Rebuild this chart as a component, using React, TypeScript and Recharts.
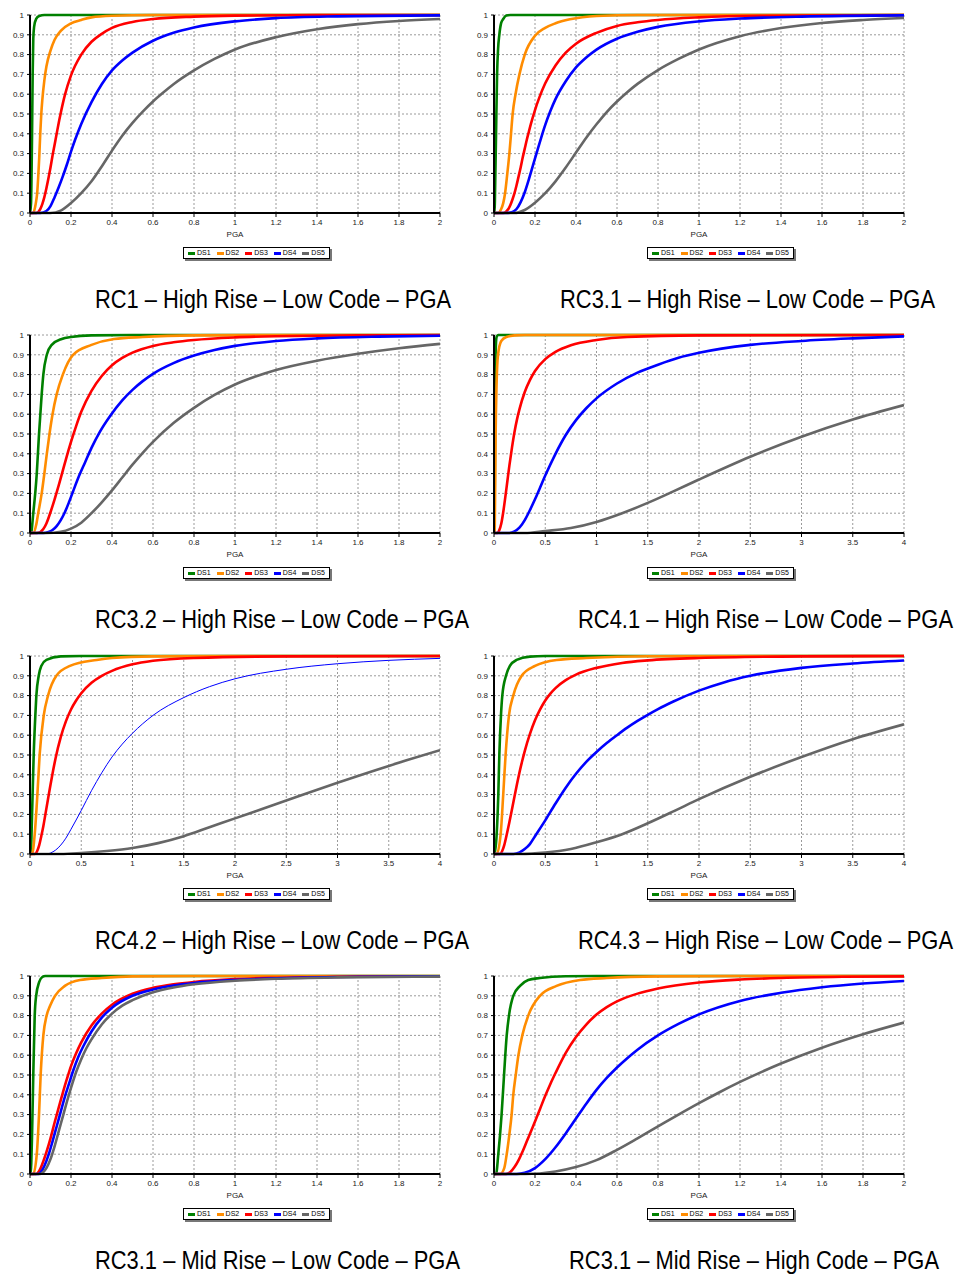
import React from 'react';
import { LineChart, Line, XAxis, YAxis, CartesianGrid, Legend } from 'recharts';

const SERIES_NAMES = ['DS1', 'DS2', 'DS3', 'DS4', 'DS5'];
const SERIES_COLORS = ['#008000', '#ff8c00', '#ff0000', '#0000ff', '#666666'];
const Y_TICKS = [0, 0.1, 0.2, 0.3, 0.4, 0.5, 0.6, 0.7, 0.8, 0.9, 1];
const X_TICKS_2 = [0, 0.2, 0.4, 0.6, 0.8, 1, 1.2, 1.4, 1.6, 1.8, 2];
const X_TICKS_4 = [0, 0.5, 1, 1.5, 2, 2.5, 3, 3.5, 4];
const X_LABEL = 'PGA';

// Panel 1: RC1 – High Rise – Low Code – PGA
const RC1_HR_LC_DS1 = [[0,0],[0.005,0.05],[0.01,0.4],[0.013,0.7],[0.016,0.88],[0.02,0.94],[0.03,0.98],[0.045,0.995],[0.07,1],[2,1]];
const RC1_HR_LC_DS2 = [[0,0],[0.016,0],[0.025,0.03],[0.03,0.06],[0.035,0.1],[0.04,0.18],[0.045,0.28],[0.05,0.4],[0.055,0.5],[0.06,0.57],[0.07,0.67],[0.08,0.74],[0.1,0.82],[0.12,0.875],[0.15,0.92],[0.2,0.958],[0.25,0.975],[0.3,0.988],[0.4,0.996],[0.6,1],[2,1]];
const RC1_HR_LC_DS3 = [[0,0],[0.03,0],[0.05,0.02],[0.06,0.045],[0.07,0.08],[0.08,0.125],[0.09,0.175],[0.1,0.23],[0.11,0.29],[0.12,0.345],[0.13,0.4],[0.14,0.455],[0.15,0.505],[0.17,0.595],[0.2,0.695],[0.25,0.8],[0.3,0.865],[0.35,0.905],[0.4,0.935],[0.5,0.965],[0.6,0.98],[0.8,0.992],[1,0.997],[1.4,1],[2,1]];
const RC1_HR_LC_DS4 = [[0,0],[0.05,0],[0.08,0.01],[0.1,0.035],[0.12,0.08],[0.14,0.13],[0.16,0.185],[0.18,0.245],[0.2,0.31],[0.22,0.37],[0.25,0.45],[0.3,0.56],[0.35,0.65],[0.4,0.72],[0.45,0.77],[0.5,0.81],[0.6,0.87],[0.7,0.91],[0.8,0.937],[1,0.968],[1.2,0.984],[1.5,0.993],[2,0.998]];
const RC1_HR_LC_DS5 = [[0,0],[0.1,0],[0.15,0.012],[0.2,0.05],[0.25,0.1],[0.3,0.16],[0.35,0.235],[0.4,0.315],[0.45,0.39],[0.5,0.455],[0.55,0.512],[0.6,0.563],[0.65,0.608],[0.7,0.65],[0.8,0.72],[0.9,0.778],[1,0.826],[1.2,0.888],[1.4,0.928],[1.6,0.954],[1.8,0.97],[2,0.98]];

// Panel 2: RC3.1 – High Rise – Low Code – PGA
const RC31_HR_LC_DS1 = [[0,0],[0.003,0],[0.005,0.1],[0.01,0.4],[0.015,0.7],[0.02,0.83],[0.026,0.9],[0.035,0.96],[0.045,0.98],[0.06,0.997],[0.08,1],[2,1]];
const RC31_HR_LC_DS2 = [[0,0],[0.02,0],[0.035,0.02],[0.045,0.05],[0.054,0.1],[0.065,0.2],[0.075,0.3],[0.083,0.4],[0.091,0.5],[0.105,0.6],[0.124,0.7],[0.15,0.8],[0.2,0.895],[0.25,0.935],[0.3,0.958],[0.37,0.978],[0.5,0.995],[0.7,1],[2,1]];
const RC31_HR_LC_DS3 = [[0,0],[0.045,0],[0.06,0.008],[0.07,0.02],[0.08,0.04],[0.09,0.068],[0.1,0.1],[0.11,0.14],[0.12,0.185],[0.13,0.23],[0.14,0.28],[0.15,0.325],[0.16,0.37],[0.17,0.41],[0.18,0.45],[0.2,0.52],[0.22,0.58],[0.25,0.655],[0.3,0.745],[0.35,0.81],[0.4,0.855],[0.5,0.91],[0.6,0.945],[0.7,0.963],[0.8,0.975],[1,0.988],[1.3,0.996],[2,1]];
const RC31_HR_LC_DS4 = [[0,0],[0.06,0],[0.09,0.005],[0.11,0.02],[0.13,0.055],[0.15,0.105],[0.17,0.17],[0.19,0.24],[0.21,0.31],[0.23,0.38],[0.25,0.445],[0.275,0.515],[0.3,0.575],[0.35,0.665],[0.4,0.735],[0.45,0.785],[0.5,0.825],[0.6,0.88],[0.7,0.915],[0.8,0.94],[1,0.968],[1.2,0.982],[1.5,0.992],[2,0.998]];
const RC31_HR_LC_DS5 = [[0,0],[0.1,0],[0.15,0.015],[0.2,0.052],[0.25,0.1],[0.3,0.16],[0.35,0.23],[0.4,0.305],[0.45,0.38],[0.5,0.448],[0.55,0.51],[0.6,0.563],[0.65,0.61],[0.7,0.652],[0.8,0.722],[0.9,0.778],[1,0.826],[1.2,0.893],[1.4,0.934],[1.6,0.96],[1.8,0.975],[2,0.985]];

// Panel 3: RC3.2 – High Rise – Low Code – PGA
const RC32_HR_LC_DS1 = [[0,0],[0.005,0],[0.016,0.1],[0.033,0.3],[0.044,0.5],[0.057,0.7],[0.065,0.8],[0.082,0.9],[0.106,0.95],[0.155,0.98],[0.2,0.99],[0.3,0.998],[0.5,1],[2,1]];
const RC32_HR_LC_DS2 = [[0,0],[0.016,0],[0.03,0.04],[0.04,0.1],[0.057,0.2],[0.07,0.3],[0.082,0.4],[0.095,0.5],[0.11,0.6],[0.13,0.7],[0.16,0.8],[0.21,0.9],[0.3,0.95],[0.41,0.98],[0.55,0.99],[0.8,0.998],[1.2,1],[2,1]];
const RC32_HR_LC_DS3 = [[0,0],[0.033,0],[0.05,0.005],[0.065,0.02],[0.08,0.048],[0.1,0.105],[0.12,0.17],[0.14,0.24],[0.16,0.315],[0.18,0.39],[0.2,0.46],[0.225,0.54],[0.25,0.612],[0.3,0.718],[0.35,0.793],[0.4,0.847],[0.45,0.884],[0.5,0.911],[0.6,0.945],[0.7,0.963],[0.8,0.975],[1,0.988],[1.2,0.994],[1.6,0.998],[2,1]];
const RC32_HR_LC_DS4 = [[0,0],[0.065,0],[0.09,0.005],[0.11,0.015],[0.13,0.035],[0.15,0.065],[0.17,0.105],[0.19,0.155],[0.21,0.21],[0.24,0.29],[0.27,0.36],[0.3,0.43],[0.34,0.51],[0.39,0.59],[0.45,0.67],[0.5,0.723],[0.55,0.767],[0.6,0.804],[0.7,0.858],[0.8,0.896],[0.9,0.924],[1,0.945],[1.2,0.97],[1.4,0.983],[1.7,0.992],[2,0.996]];
const RC32_HR_LC_DS5 = [[0,0],[0.08,0],[0.15,0.006],[0.2,0.022],[0.25,0.052],[0.3,0.1],[0.35,0.155],[0.4,0.215],[0.45,0.28],[0.5,0.345],[0.55,0.405],[0.6,0.46],[0.7,0.555],[0.8,0.632],[0.9,0.697],[1,0.75],[1.1,0.79],[1.2,0.823],[1.4,0.87],[1.6,0.905],[1.8,0.933],[2,0.955]];

// Panel 4: RC4.1 – High Rise – Low Code – PGA
const RC41_HR_LC_DS1 = [[0,0],[0.005,0.05],[0.01,0.5],[0.015,0.9],[0.025,0.99],[0.04,1],[4,1]];
const RC41_HR_LC_DS2 = [[0,0],[0.006,0],[0.01,0.15],[0.016,0.5],[0.025,0.75],[0.039,0.9],[0.071,0.97],[0.12,0.99],[0.2,0.998],[0.3,1],[4,1]];
const RC41_HR_LC_DS3 = [[0,0],[0.03,0],[0.05,0.012],[0.07,0.045],[0.09,0.105],[0.11,0.18],[0.13,0.26],[0.15,0.34],[0.175,0.43],[0.2,0.51],[0.225,0.575],[0.25,0.628],[0.3,0.712],[0.35,0.772],[0.4,0.818],[0.5,0.878],[0.6,0.915],[0.75,0.948],[1,0.975],[1.3,0.99],[2,0.998],[4,1]];
const RC41_HR_LC_DS4 = [[0,0],[0.15,0],[0.2,0.008],[0.25,0.028],[0.3,0.065],[0.35,0.115],[0.4,0.17],[0.45,0.23],[0.5,0.29],[0.6,0.4],[0.7,0.495],[0.8,0.57],[0.9,0.63],[1,0.68],[1.2,0.755],[1.4,0.81],[1.6,0.85],[1.8,0.885],[2,0.91],[2.5,0.95],[3,0.97],[3.5,0.983],[4,0.993]];
const RC41_HR_LC_DS5 = [[0,0],[0.3,0],[0.5,0.01],[0.75,0.025],[1,0.056],[1.25,0.1],[1.5,0.152],[1.75,0.21],[2,0.27],[2.5,0.385],[3,0.486],[3.5,0.573],[4,0.646]];

// Panel 5: RC4.2 – High Rise – Low Code – PGA
const RC42_HR_LC_DS1 = [[0,0],[0.007,0],[0.02,0.2],[0.036,0.5],[0.052,0.7],[0.062,0.8],[0.085,0.9],[0.11,0.95],[0.16,0.98],[0.3,0.998],[0.5,1],[4,1]];
const RC42_HR_LC_DS2 = [[0,0],[0.02,0],[0.046,0.1],[0.072,0.3],[0.094,0.5],[0.134,0.7],[0.176,0.8],[0.257,0.9],[0.39,0.95],[0.65,0.98],[0.8,0.99],[1.2,0.998],[2,1],[4,1]];
const RC42_HR_LC_DS3 = [[0,0],[0.046,0],[0.07,0.015],[0.09,0.045],[0.11,0.09],[0.13,0.14],[0.15,0.2],[0.175,0.275],[0.2,0.35],[0.225,0.42],[0.25,0.485],[0.3,0.59],[0.35,0.67],[0.4,0.73],[0.45,0.775],[0.5,0.812],[0.6,0.865],[0.7,0.9],[0.8,0.925],[1,0.958],[1.2,0.976],[1.6,0.99],[2.5,0.998],[4,1]];
const RC42_HR_LC_DS4 = [[0,0],[0.16,0],[0.2,0.005],[0.25,0.02],[0.3,0.045],[0.35,0.08],[0.4,0.125],[0.5,0.22],[0.6,0.32],[0.7,0.41],[0.8,0.49],[0.9,0.555],[1,0.61],[1.2,0.7],[1.5,0.79],[1.75,0.845],[2,0.885],[2.5,0.933],[3,0.961],[3.5,0.978],[4,0.988]];
const RC42_HR_LC_DS5 = [[0,0],[0.3,0],[0.5,0.005],[0.75,0.015],[1,0.03],[1.25,0.055],[1.5,0.09],[1.75,0.135],[2,0.18],[2.25,0.225],[2.5,0.27],[3,0.36],[3.5,0.445],[4,0.524]];

// Panel 6: RC4.3 – High Rise – Low Code – PGA
const RC43_HR_LC_DS1 = [[0,0],[0.006,0],[0.026,0.1],[0.042,0.3],[0.052,0.5],[0.068,0.7],[0.081,0.8],[0.117,0.9],[0.155,0.95],[0.22,0.98],[0.35,0.997],[0.5,1],[4,1]];
const RC43_HR_LC_DS2 = [[0,0],[0.026,0],[0.065,0.1],[0.09,0.3],[0.113,0.5],[0.146,0.7],[0.188,0.8],[0.27,0.9],[0.4,0.95],[0.61,0.98],[0.9,0.99],[1.5,0.999],[4,1]];
const RC43_HR_LC_DS3 = [[0,0],[0.058,0],[0.08,0.015],[0.1,0.045],[0.125,0.1],[0.15,0.16],[0.175,0.225],[0.2,0.29],[0.225,0.355],[0.25,0.415],[0.275,0.47],[0.3,0.52],[0.35,0.605],[0.4,0.675],[0.45,0.73],[0.5,0.775],[0.55,0.81],[0.6,0.838],[0.7,0.878],[0.8,0.906],[1,0.94],[1.25,0.965],[1.5,0.978],[2,0.99],[3,0.998],[4,1]];
const RC43_HR_LC_DS4 = [[0,0],[0.19,0],[0.25,0.008],[0.3,0.025],[0.35,0.05],[0.4,0.09],[0.5,0.17],[0.6,0.255],[0.7,0.335],[0.8,0.405],[0.9,0.465],[1,0.515],[1.1,0.56],[1.2,0.6],[1.3,0.638],[1.4,0.672],[1.5,0.703],[1.6,0.732],[1.75,0.77],[2,0.825],[2.25,0.868],[2.5,0.9],[3,0.94],[3.5,0.962],[4,0.977]];
const RC43_HR_LC_DS5 = [[0,0],[0.25,0],[0.5,0.007],[0.75,0.025],[1,0.059],[1.25,0.1],[1.5,0.155],[1.75,0.215],[2,0.277],[2.5,0.39],[3,0.49],[3.5,0.58],[4,0.655]];

// Panel 7: RC3.1 – Mid Rise – Low Code – PGA
const RC31_MR_LC_DS1 = [[0,0],[0.003,0],[0.01,0.2],[0.016,0.5],[0.023,0.8],[0.03,0.9],[0.045,0.97],[0.06,0.995],[0.075,1],[2,1]];
const RC31_MR_LC_DS2 = [[0,0],[0.016,0],[0.033,0.1],[0.044,0.3],[0.052,0.5],[0.065,0.7],[0.081,0.8],[0.098,0.85],[0.122,0.9],[0.17,0.95],[0.244,0.98],[0.35,0.99],[0.5,0.998],[0.8,1],[2,1]];
const RC31_MR_LC_DS3 = [[0,0],[0.03,0],[0.045,0.015],[0.06,0.05],[0.08,0.11],[0.1,0.18],[0.12,0.26],[0.14,0.335],[0.16,0.41],[0.18,0.48],[0.2,0.545],[0.225,0.61],[0.25,0.665],[0.3,0.75],[0.35,0.81],[0.4,0.855],[0.5,0.91],[0.6,0.94],[0.7,0.958],[0.8,0.97],[1,0.984],[1.2,0.991],[1.6,0.997],[2,0.999]];
const RC31_MR_LC_DS4 = [[0,0],[0.04,0],[0.055,0.012],[0.07,0.04],[0.09,0.095],[0.11,0.165],[0.13,0.24],[0.15,0.315],[0.17,0.39],[0.19,0.455],[0.21,0.52],[0.235,0.59],[0.26,0.645],[0.3,0.72],[0.35,0.79],[0.4,0.84],[0.5,0.9],[0.6,0.932],[0.7,0.952],[0.8,0.965],[1,0.98],[1.25,0.99],[1.6,0.996],[2,0.998]];
const RC31_MR_LC_DS5 = [[0,0],[0.05,0],[0.065,0.01],[0.08,0.03],[0.1,0.075],[0.12,0.14],[0.14,0.215],[0.16,0.29],[0.18,0.365],[0.2,0.435],[0.225,0.515],[0.25,0.58],[0.275,0.635],[0.3,0.68],[0.35,0.755],[0.4,0.81],[0.45,0.85],[0.5,0.878],[0.6,0.918],[0.7,0.942],[0.8,0.958],[1,0.976],[1.2,0.986],[1.5,0.993],[2,0.997]];

// Panel 8: RC3.1 – Mid Rise – High Code – PGA
const RC31_MR_HC_DS1 = [[0,0],[0.01,0],[0.021,0.1],[0.037,0.3],[0.049,0.5],[0.062,0.7],[0.073,0.8],[0.094,0.9],[0.127,0.95],[0.167,0.98],[0.224,0.99],[0.35,0.999],[0.5,1],[2,1]];
const RC31_MR_HC_DS2 = [[0,0],[0.03,0],[0.05,0.03],[0.062,0.1],[0.075,0.2],[0.086,0.3],[0.094,0.4],[0.106,0.5],[0.119,0.6],[0.138,0.7],[0.167,0.8],[0.224,0.9],[0.305,0.95],[0.42,0.98],[0.55,0.99],[0.8,0.998],[1.2,1],[2,1]];
const RC31_MR_HC_DS3 = [[0,0],[0.058,0],[0.08,0.01],[0.1,0.035],[0.12,0.07],[0.14,0.115],[0.16,0.165],[0.18,0.215],[0.2,0.265],[0.225,0.33],[0.25,0.395],[0.275,0.455],[0.3,0.51],[0.35,0.612],[0.4,0.692],[0.45,0.755],[0.5,0.805],[0.55,0.843],[0.6,0.872],[0.7,0.911],[0.8,0.937],[1,0.967],[1.2,0.982],[1.4,0.99],[1.7,0.996],[2,0.998]];
const RC31_MR_HC_DS4 = [[0,0],[0.11,0],[0.15,0.006],[0.2,0.03],[0.25,0.075],[0.3,0.135],[0.35,0.205],[0.4,0.28],[0.45,0.355],[0.5,0.425],[0.55,0.485],[0.6,0.538],[0.65,0.585],[0.7,0.628],[0.8,0.7],[0.9,0.758],[1,0.806],[1.2,0.874],[1.4,0.915],[1.6,0.943],[1.8,0.962],[2,0.975]];
const RC31_MR_HC_DS5 = [[0,0],[0.15,0],[0.3,0.013],[0.4,0.035],[0.5,0.07],[0.6,0.122],[0.7,0.18],[0.8,0.24],[0.9,0.3],[1,0.358],[1.1,0.413],[1.2,0.465],[1.4,0.558],[1.6,0.638],[1.8,0.706],[2,0.765]];

const TITLES = [
  'RC1 – High Rise – Low Code – PGA',
  'RC3.1 – High Rise – Low Code – PGA',
  'RC3.2 – High Rise – Low Code – PGA',
  'RC4.1 – High Rise – Low Code – PGA',
  'RC4.2 – High Rise – Low Code – PGA',
  'RC4.3 – High Rise – Low Code – PGA',
  'RC3.1 – Mid Rise – Low Code – PGA',
  'RC3.1 – Mid Rise – High Code – PGA',
];

const PANELS = [
  { title: TITLES[0], xMax: 2, ticks: X_TICKS_2, series: [RC1_HR_LC_DS1, RC1_HR_LC_DS2, RC1_HR_LC_DS3, RC1_HR_LC_DS4, RC1_HR_LC_DS5], thin: -1 },
  { title: TITLES[1], xMax: 2, ticks: X_TICKS_2, series: [RC31_HR_LC_DS1, RC31_HR_LC_DS2, RC31_HR_LC_DS3, RC31_HR_LC_DS4, RC31_HR_LC_DS5], thin: -1 },
  { title: TITLES[2], xMax: 2, ticks: X_TICKS_2, series: [RC32_HR_LC_DS1, RC32_HR_LC_DS2, RC32_HR_LC_DS3, RC32_HR_LC_DS4, RC32_HR_LC_DS5], thin: -1 },
  { title: TITLES[3], xMax: 4, ticks: X_TICKS_4, series: [RC41_HR_LC_DS1, RC41_HR_LC_DS2, RC41_HR_LC_DS3, RC41_HR_LC_DS4, RC41_HR_LC_DS5], thin: -1 },
  { title: TITLES[4], xMax: 4, ticks: X_TICKS_4, series: [RC42_HR_LC_DS1, RC42_HR_LC_DS2, RC42_HR_LC_DS3, RC42_HR_LC_DS4, RC42_HR_LC_DS5], thin: 3 },
  { title: TITLES[5], xMax: 4, ticks: X_TICKS_4, series: [RC43_HR_LC_DS1, RC43_HR_LC_DS2, RC43_HR_LC_DS3, RC43_HR_LC_DS4, RC43_HR_LC_DS5], thin: -1 },
  { title: TITLES[6], xMax: 2, ticks: X_TICKS_2, series: [RC31_MR_LC_DS1, RC31_MR_LC_DS2, RC31_MR_LC_DS3, RC31_MR_LC_DS4, RC31_MR_LC_DS5], thin: -1 },
  { title: TITLES[7], xMax: 2, ticks: X_TICKS_2, series: [RC31_MR_HC_DS1, RC31_MR_HC_DS2, RC31_MR_HC_DS3, RC31_MR_HC_DS4, RC31_MR_HC_DS5], thin: -1 },
];

// layout
const ROW_TOPS = [0, 320, 641, 961];
const COL_LEFTS = [0, 464];
const TITLE_BOXES = [
  { x: 95, w: 356 }, { x: 560, w: 375 },
  { x: 95, w: 374 }, { x: 578, w: 375 },
  { x: 95, w: 374 }, { x: 578, w: 375 },
  { x: 95, w: 365 }, { x: 569, w: 370 },
];
const CHART_W = 470;
const CHART_H = 265;
const FONT = '"Liberation Sans", Arial, sans-serif';

const fmt = (v: number) => String(Number(v.toFixed(2)));

const LegendBox = (props: any) => {
  const payload = props.payload || [];
  return (
    <div
      style={{
        display: 'flex',
        alignItems: 'center',
        justifyContent: 'space-around',
        width: 143,
        height: 10,
        border: '1px solid #000',
        background: '#fff',
        boxShadow: '2px 2px 0 #777',
        fontFamily: FONT,
        fontSize: 7,
        color: '#000',
        lineHeight: '10px',
        padding: '0 1px',
      }}
    >
      {payload.map((p: any) => (
        <span key={p.value} style={{ display: 'flex', alignItems: 'center' }}>
          <span style={{ display: 'inline-block', width: 7, height: 3, background: p.color, marginRight: 2 }} />
          <span>{p.value}</span>
        </span>
      ))}
    </div>
  );
};

const Panel = ({ panel }: { panel: any }) => (
  <LineChart width={CHART_W} height={CHART_H} margin={{ top: 15, right: 30, bottom: 24, left: 10 }}>
    <CartesianGrid stroke="#9a9a9a" strokeDasharray="2 2" strokeWidth={1} />
    <XAxis
      dataKey="x"
      type="number"
      domain={[0, panel.xMax]}
      ticks={panel.ticks}
      tickFormatter={fmt}
      allowDataOverflow
      height={28}
      interval={0}
      axisLine={{ stroke: '#000', strokeWidth: 2 }}
      tickLine={{ stroke: '#000' }}
      tickSize={4}
      tickMargin={2}
      tick={{ fontSize: 8, fill: '#222', fontFamily: FONT }}
      label={{ value: X_LABEL, position: 'insideBottom', offset: 4, fontSize: 8, fill: '#222', fontFamily: FONT }}
    />
    <YAxis
      type="number"
      domain={[0, 1]}
      ticks={Y_TICKS}
      tickFormatter={fmt}
      interval={0}
      width={20}
      axisLine={{ stroke: '#000', strokeWidth: 2 }}
      tickLine={{ stroke: '#000' }}
      tickSize={3}
      tickMargin={3}
      tick={{ fontSize: 8, fill: '#222', fontFamily: FONT }}
    />
    {panel.series.map((pts: number[][], i: number) => (
      <Line
        key={SERIES_NAMES[i]}
        name={SERIES_NAMES[i]}
        data={pts.map(([x, y]) => ({ x, y }))}
        dataKey="y"
        type="monotoneX"
        stroke={SERIES_COLORS[i]}
        strokeWidth={panel.thin === i ? 1 : 2.6}
        dot={false}
        activeDot={false}
        isAnimationActive={false}
      />
    ))}
    <Legend
      layout="horizontal"
      verticalAlign="middle"
      align="center"
      wrapperStyle={{ left: 183, top: 247, width: 'auto', height: 'auto' }}
      content={<LegendBox />}
    />
  </LineChart>
);

export default function App() {
  return (
    <div style={{ position: 'absolute', left: 0, top: 0, width: 958, height: 1274, background: '#fff' }}>
      {PANELS.map((panel, i) => {
        const row = Math.floor(i / 2);
        const col = i % 2;
        const tb = TITLE_BOXES[i];
        return (
          <React.Fragment key={i}>
            <div style={{ position: 'absolute', left: COL_LEFTS[col], top: ROW_TOPS[row], width: CHART_W, height: CHART_H }}>
              <Panel panel={panel} />
            </div>
            <svg
              width={958}
              height={40}
              style={{ position: 'absolute', left: 0, top: ROW_TOPS[row] + 277, overflow: 'visible' }}
            >
              <text
                transform={`translate(${tb.x} 30.5) scale(1 1.2)`}
                x={0}
                y={0}
                textLength={tb.w}
                lengthAdjust="spacingAndGlyphs"
                fontFamily='"Liberation Sans", Arial, sans-serif'
                fontSize={22}
                fill="#000"
              >
                {panel.title}
              </text>
            </svg>
          </React.Fragment>
        );
      })}
    </div>
  );
}
